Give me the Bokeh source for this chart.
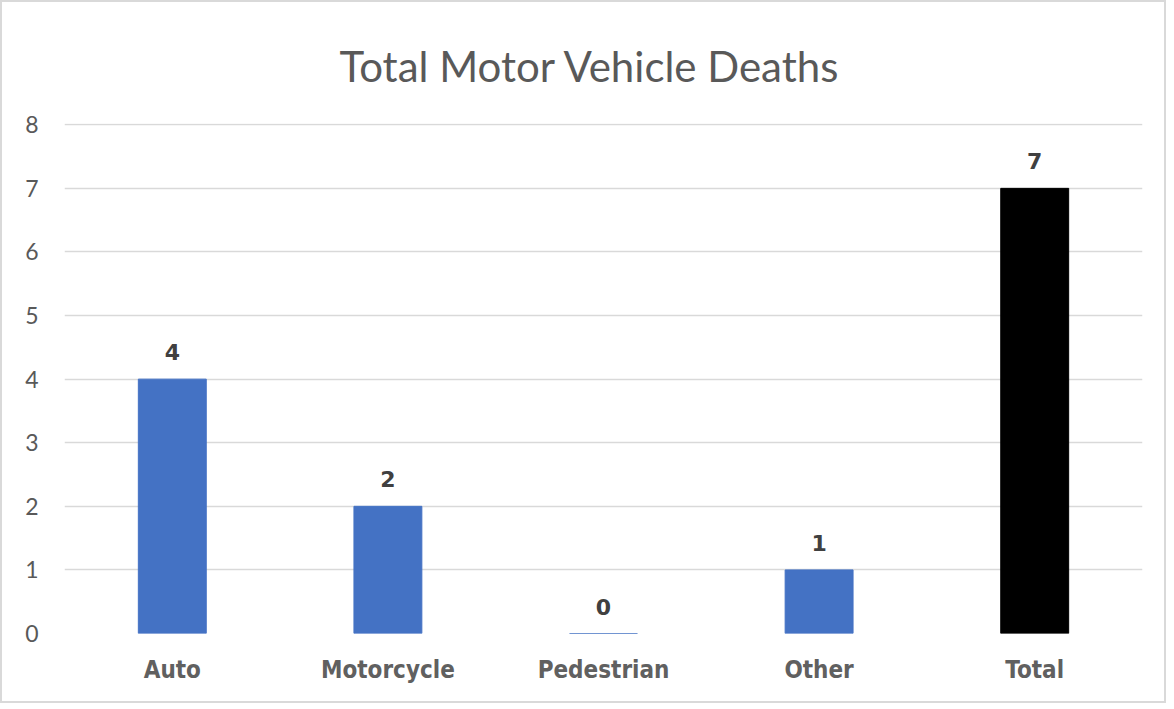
from bokeh.plotting import figure
from bokeh.models import ColumnDataSource, FixedTicker
from bokeh.core.properties import value
from bokeh.embed import file_html
from bokeh.resources import INLINE

categories = ["Auto", "Motorcycle", "Pedestrian", "Other", "Total"]
deaths = [4, 2, 0, 1, 7]
bar_colors = ["#4472C4", "#4472C4", "#4472C4", "#4472C4", "#000000"]
y_ticks = [0, 1, 2, 3, 4, 5, 6, 7, 8]

src = ColumnDataSource(dict(cat=categories, val=deaths, color=bar_colors,
                            label=[str(v) for v in deaths]))

W, H = 1166, 703
p = figure(x_range=categories, y_range=(0, 8.02), width=W, height=H,
           output_backend="svg", toolbar_location=None,
           min_border_left=62, min_border_right=W - 1140, min_border_top=121,
           min_border_bottom=H - 631)
p.styles = {"border": "2px solid #D9D9D9"}

p.title.text = "Total Motor Vehicle Deaths"
p.title.align = "left"
p.title.offset = 275
p.title.text_font = "Lato"
p.title.text_font_size = "42px"
p.title.text_font_style = "normal"
p.title.text_color = "#595959"
p.title.standoff = 66

p.vbar(x="cat", top="val", width=0.315, color="color", source=src)
p.text(x="cat", y="val", text="label", source=src, y_offset=-19,
       text_align="center", text_baseline="bottom",
       text_font=value("DejaVu Sans"), text_font_size="22px",
       text_font_style="bold", text_color="#404040")

p.outline_line_color = None
p.border_fill_color = "white"
p.background_fill_color = "white"

p.yaxis.ticker = FixedTicker(ticks=y_ticks)
p.yaxis.axis_line_color = None
p.yaxis.major_tick_line_color = None
p.yaxis.minor_tick_line_color = None
p.yaxis.major_tick_out = 0
p.yaxis.major_label_standoff = 26
p.yaxis.major_label_text_font = "Lato"
p.yaxis.major_label_text_font_size = "23px"
p.yaxis.major_label_text_color = "#595959"

p.xaxis.axis_line_color = None
p.xaxis.major_tick_line_color = None
p.xaxis.major_tick_out = 0
p.xaxis.major_label_standoff = 22
p.xaxis.major_label_text_font = "DejaVu Sans Condensed"
p.xaxis.major_label_text_font_size = "24px"
p.xaxis.major_label_text_font_style = "bold"
p.xaxis.major_label_text_color = "#606060"

p.xgrid.grid_line_color = None
p.ygrid.grid_line_color = "#D9D9D9"
p.ygrid.grid_line_width = 1.5

p.x_range.range_padding = 0

open("out.html", "w").write(file_html(p, INLINE))
